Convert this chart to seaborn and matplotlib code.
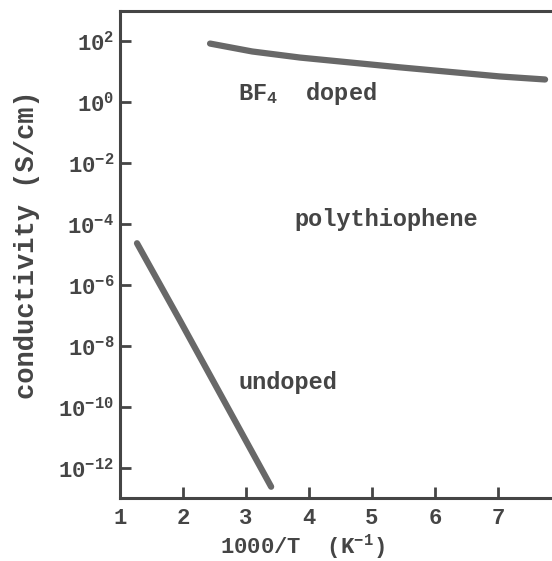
import matplotlib
matplotlib.use("Agg")
import matplotlib.pyplot as plt
import numpy as np
import pandas as pd
import seaborn as sns

# values
doped_x = [2.43, 3.1, 3.86, 5.44, 7.03, 7.75]
doped_log = [1.93, 1.67, 1.47, 1.15, 0.85, 0.75]
undoped_x = [1.27, 1.95, 3.40]
undoped_log = [-4.63, -7.16, -12.63]

x_ticks = [1, 2, 3, 4, 5, 6, 7]
x_tick_labels = ["1", "2", "3", "4", "5", "6", "7"]
y_exponents = [2, 0, -2, -4, -6, -8, -10, -12]
y_tick_labels = [r"10$^{%d}$" % e for e in y_exponents]

sns.set_theme(style="ticks")
plt.rcParams["font.family"] = ["Liberation Mono", "DejaVu Sans"]
plt.rcParams["font.weight"] = "bold"
plt.rcParams["axes.labelweight"] = "bold"
plt.rcParams["mathtext.fontset"] = "custom"
plt.rcParams["mathtext.rm"] = "Liberation Mono:bold"
plt.rcParams["mathtext.it"] = "Liberation Mono:bold"
plt.rcParams["mathtext.bf"] = "Liberation Mono:bold"
plt.rcParams["mathtext.default"] = "regular"

ink = "#454545"
line_col = "#686868"

df = pd.concat([
    pd.DataFrame({"x": doped_x, "sigma": np.power(10.0, doped_log), "kind": "doped"}),
    pd.DataFrame({"x": undoped_x, "sigma": np.power(10.0, undoped_log), "kind": "undoped"}),
])

fig = plt.figure(figsize=(5.52, 5.61), dpi=100)
ax = fig.add_axes([120 / 552, 63 / 561, 432 / 552, 487 / 561])
ax.set_yscale("log")

for kind, grp in df.groupby("kind"):
    sns.lineplot(data=grp, x="x", y="sigma", ax=ax, color=line_col, lw=4.5,
                 solid_capstyle="round", legend=False)

ax.set_xlim(1.0, 7.86)
ax.set_ylim(1e-13, 1e3)

ax.set_xticks(x_ticks)
ax.set_xticklabels(x_tick_labels)
ax.set_yticks([10.0 ** e for e in y_exponents])
ax.set_yticklabels(y_tick_labels)
ax.minorticks_off()
ax.tick_params(direction="in", length=8, width=2, color=ink, labelcolor=ink,
               labelsize=16)
ax.tick_params(axis="x", pad=7)
ax.tick_params(axis="y", pad=4)

for side in ["left", "bottom", "top"]:
    ax.spines[side].set_linewidth(2.2)
    ax.spines[side].set_color(ink)
ax.spines["right"].set_visible(False)

ax.set_xlabel(r"1000/T  (K$^{-1}$)", fontsize=16, color=ink)
ax.xaxis.set_label_coords((302 - 120) / 432, -0.07)
ax.set_ylabel("conductivity (S/cm)", fontsize=19.5, color=ink)
ax.yaxis.set_label_coords((40 - 120) / 432, 0.52)

ax.text(2.88, 10 ** 0.3, r"BF$_{4}$  doped", fontsize=17, color=ink, va="center")
ax.text(3.77, 10 ** -3.85, "polythiophene", fontsize=17, color=ink, va="center")
ax.text(2.88, 10 ** -9.2, "undoped", fontsize=17, color=ink, va="center")

fig.savefig("out.png", dpi=100)
